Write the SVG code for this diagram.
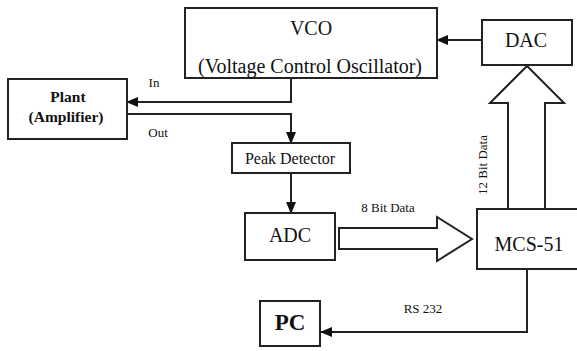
<svg xmlns="http://www.w3.org/2000/svg" width="577" height="351" viewBox="0 0 577 351">
<style>
.box{fill:#fff;stroke:#222;stroke-width:2}
.ln{fill:none;stroke:#222;stroke-width:2}
.fat{fill:#fff;stroke:#222;stroke-width:2;stroke-linejoin:miter}
text{font-family:"Liberation Serif","Times New Roman",serif;fill:#111;text-anchor:middle}
.sm{font-size:13px}
.big{font-size:20px}
</style>
<defs>
<marker id="ah" markerWidth="12" markerHeight="10" refX="11" refY="5" orient="auto" markerUnits="userSpaceOnUse">
<path d="M0,0 L12,5 L0,10 Z" fill="#111"/>
</marker>
</defs>
<rect width="577" height="351" fill="#fff"/>
<g id="connectors">
<path class="ln" d="M482,40 H437" marker-end="url(#ah)"/>
<path class="ln" d="M291,78 V102 H127" marker-end="url(#ah)"/>
<path class="ln" d="M127,114 H291 V143" marker-end="url(#ah)"/>
<path class="ln" d="M291,173 V213" marker-end="url(#ah)"/>
<path class="ln" d="M527,269 V332 H321" marker-end="url(#ah)"/>
<path class="fat" d="M339,228 H437 V217 L472,239 L437,261 V249 H339 Z"/>
<path class="fat" d="M508,215 V103 H490 L527,66 L564,103 H545 V215"/>
<text class="sm" x="154" y="87">In</text>
<text class="sm" x="158" y="137">Out</text>
<text class="sm" x="388" y="212">8 Bit Data</text>
<text class="sm" x="423" y="313">RS 232</text>
<text class="sm" transform="translate(487,165) rotate(-90)">12 Bit Data</text>
</g>
<g id="vco">
<rect class="box" x="185" y="8" width="252" height="70"/>
<text class="big" x="311" y="35">VCO</text>
<text class="big" x="310" y="73">(Voltage Control Oscillator)</text>
</g>
<g id="dac">
<rect class="box" x="482" y="20" width="90" height="45"/>
<text class="big" x="526" y="47">DAC</text>
</g>
<g id="plant">
<rect class="box" x="8" y="79" width="119" height="60"/>
<text x="68" y="102" font-size="15.5" font-weight="bold">Plant</text>
<text x="66" y="122" font-size="15.5" font-weight="bold">(Amplifier)</text>
</g>
<g id="peak">
<rect class="box" x="232" y="143" width="118" height="30"/>
<text x="290" y="164" font-size="16">Peak Detector</text>
</g>
<g id="adc">
<rect class="box" x="245" y="213" width="90" height="47"/>
<text class="big" x="290" y="242">ADC</text>
</g>
<g id="mcs">
<rect class="box" x="477" y="209" width="104" height="60"/>
<text class="big" x="529" y="251">MCS-51</text>
</g>
<g id="pc">
<rect class="box" x="260" y="301" width="60" height="45"/>
<text x="290" y="330" font-size="23" font-weight="bold">PC</text>
</g>
</svg>
